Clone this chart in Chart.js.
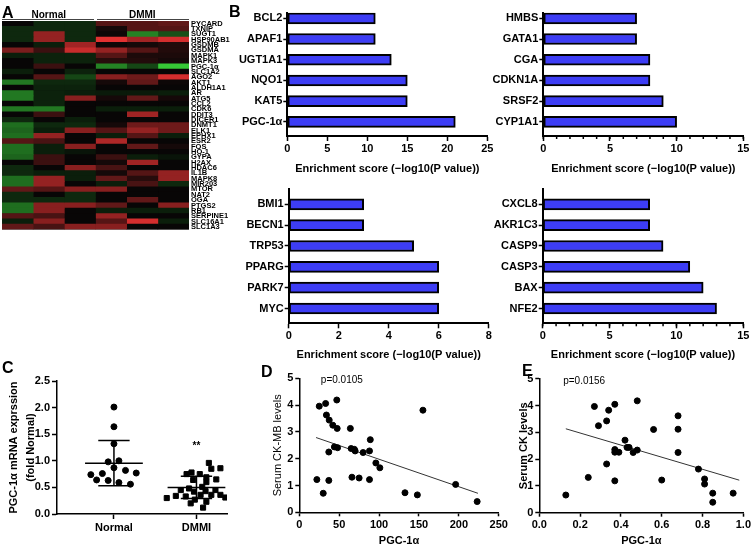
<!DOCTYPE html>
<html>
<head>
<meta charset="utf-8">
<script src="https://cdn.jsdelivr.net/npm/chart.js@4.4.0/dist/chart.umd.min.js"></script>
<style>
  body { margin: 0; background: #fff; }
  #fig { position: relative; width: 753px; height: 548px; overflow: hidden; font-family: 'Liberation Sans', Arial, sans-serif; }
  canvas { position: absolute; }
  .tag { position: absolute; font-weight: bold; font-size: 16px; line-height: 1; color: #000; }
</style>
</head>
<body>
<div id="fig">
  <canvas id="heat" width="232" height="236" style="left:0;top:0"></canvas>
  <canvas id="b1" width="270" height="176" style="left:230px;top:0"></canvas>
  <canvas id="b2" width="263" height="176" style="left:490px;top:0"></canvas>
  <canvas id="b3" width="270" height="182" style="left:230px;top:180px"></canvas>
  <canvas id="b4" width="263" height="182" style="left:490px;top:180px"></canvas>
  <canvas id="c" width="232" height="218" style="left:0;top:330px"></canvas>
  <canvas id="d" width="250" height="218" style="left:262px;top:330px"></canvas>
  <canvas id="e" width="253" height="218" style="left:500px;top:330px"></canvas>
  <div class="tag" style="left:2px;top:5px">A</div>
  <div class="tag" style="left:229px;top:4px">B</div>
  <div class="tag" style="left:2px;top:360px">C</div>
  <div class="tag" style="left:261px;top:364px">D</div>
  <div class="tag" style="left:522px;top:363px">E</div>
</div>
<script>
// ---- panel A: heatmap ----
const genes = ['PYCARD', 'TXNIP', 'SUGT1', 'HSP90AB1', 'GSDMB', 'GSDMA', 'MAPK1', 'MAPK3', 'PGC-1α', 'SLC1A2',
  'AGO2', 'AKT1', 'ALDH1A1', 'AR', 'ATG5', 'CCL2', 'CDK6', 'DDIT3', 'DICER1', 'DNMT1',
  'ELK1', 'EPHX1', 'ESR2', 'FOS', 'HO-1', 'GYPA', 'H2AX', 'HDAC6', 'IL1B', 'MAPK8',
  'MIR203', 'MTOR', 'NAT2', 'OGA', 'PTGS2', 'RB1', 'SERPINE1', 'SLC16A1', 'SLC1A3'];
const groups = ['Normal', 'DMMI'];
// one array per sample column, one value per gene (red = up, green = down)
const normal1 = [0, -0.15, -0.15, -0.15, 0, 0.45, -0.1, 0, 0, -0.1, 0, -0.55, 0, -0.55, -0.55, 0, -0.55, 0, -0.15, -0.5,
  -0.45, -0.5, 0.3, -0.5, -0.5, -0.45, 0, -0.15, -0.15, -0.5, -0.5, 0.35, -0.15, -0.15, -0.5, -0.5, 0.3, -0.1, 0.35];
const normal2 = [-0.15, -0.15, 0.55, 0.55, -0.1, 0.2, -0.12, -0.12, 0.2, 0, 0.3, -0.15, -0.12, -0.12, -0.12, -0.12, -0.55, 0.2, 0, -0.15,
  -0.1, 0.55, 0.25, -0.1, -0.1, 0.2, 0.2, 0, -0.1, 0.55, 0.55, 0.3, 0, -0.15, 0.5, 0.5, 0.25, 0.5, 0.25];
const normal3 = [-0.15, -0.15, -0.15, -0.15, 0.6, 0.75, -0.12, -0.12, 0, -0.12, -0.3, -0.15, -0.12, -0.1, 0.5, 0, 0, 0, -0.1, -0.15,
  0.5, 0, 0, 0.5, -0.05, 0, 0, 0.5, -0.1, -0.1, 0, 0.5, -0.15, -0.15, 0.5, 0, 0, 0, 0.5];
const dmmi1 = [0.3, 0.05, 0.02, 0.85, 0.02, 0.55, 0.3, 0.12, -0.6, 0, 0.5, 0.05, 0, -0.08, 0.05, 0, -0.1, 0, 0, 0.05,
  0.3, -0.1, 0.65, 0, 0, 0.2, 0.05, 0.25, 0.05, 0.35, -0.1, 0.5, 0, 0, 0.35, -0.1, 0.55, 0.3, 0.5];
const dmmi2 = [0.3, 0.3, -0.6, 0.6, 0.05, 0.3, 0.08, 0.1, -0.3, 0, 0.4, 0.35, 0, -0.08, 0.35, 0, -0.1, 0.6, 0, 0.4,
  0.55, 0.3, 0, 0.35, 0, -0.1, 0.6, 0, 0.3, 0.12, 0.25, 0, 0, 0.35, 0, -0.1, 0, 0.8, 0];
const dmmi3 = [0.35, 0.3, -0.35, 0.8, 0.1, 0.1, 0.08, 0.05, -0.95, 0, 0.8, 0.02, 0, -0.1, 0.05, 0, -0.1, 0, 0, 0.4,
  0.4, -0.1, 0, 0.05, 0, -0.05, 0, 0, 0.55, 0.55, -0.15, 0, 0, 0, 0.5, -0.1, 0, -0.1, 0];
const heatColumns = [normal1, normal2, normal3, dmmi1, dmmi2, dmmi3];

// ---- panel B: enrichment scores ----
const b1Genes = ['BCL2', 'APAF1', 'UGT1A1', 'NQO1', 'KAT5', 'PGC-1α'];
const b1Scores = [11, 11, 13, 15, 15, 21];
const b2Genes = ['HMBS', 'GATA1', 'CGA', 'CDKN1A', 'SRSF2', 'CYP1A1'];
const b2Scores = [7, 7, 8, 8, 9, 10];
const b3Genes = ['BMI1', 'BECN1', 'TRP53', 'PPARG', 'PARK7', 'MYC'];
const b3Scores = [3, 3, 5, 6, 6, 6];
const b4Genes = ['CXCL8', 'AKR1C3', 'CASP9', 'CASP3', 'BAX', 'NFE2'];
const b4Scores = [8, 8, 9, 11, 12, 13];

// ---- panel C: mRNA expression ----
const normalValues = [2.01, 1.64, 1.32, 0.98, 1.0, 0.87, 0.74, 0.76, 0.82, 0.77, 0.64, 0.63, 0.59, 0.56];
const normalJitter = [0, 0, 0, -0.07, 0.06, 0, -0.28, -0.14, 0.14, 0.27, -0.21, -0.07, 0.06, 0.2];
const dmmiValues = [0.96, 0.85, 0.86, 0.75, 0.78, 0.75, 0.69, 0.64, 0.6, 0.65, 0.51, 0.48, 0.45, 0.42,
  0.43, 0.45, 0.36, 0.33, 0.34, 0.3, 0.36, 0.31, 0.27, 0.23, 0.2, 0.12, 0.36];
const dmmiJitter = [0.15, 0.18, 0.29, -0.12, -0.06, 0.04, 0.12, -0.04, 0.12, 0.24, 0.07, -0.09, -0.19, -0.03,
  0.11, 0.23, 0.05, -0.13, -0.25, -0.36, 0.29, 0.35, -0.02, 0.12, -0.07, 0.08, 0.18];
const groupMean = [0.955, 0.5];
const groupSD = [0.425, 0.21];

// ---- panels D, E: correlations ----
const ckmbX = [22, 25, 30, 33, 34, 37.5, 37, 37, 42, 44, 47, 47.5, 48, 64, 65, 66, 69, 70, 75, 80,
  89, 88, 88, 96, 101, 132.5, 148, 155, 196, 223];
const ckmbY = [1.22, 3.96, 0.71, 4.06, 3.63, 3.44, 2.25, 1.19, 3.25, 2.44, 4.19, 3.13, 2.41, 3.13, 2.38, 1.31, 2.35, 2.29, 1.28, 2.23,
  2.71, 2.29, 1.22, 1.84, 1.66, 0.73, 0.65, 3.81, 1.04, 0.4];
const ckmbFit = { intercept: 3.005, slope: -0.01025, from: 21, to: 224 };
const ckX = [0.13, 0.24, 0.27, 0.29, 0.33, 0.34, 0.33, 0.37, 0.37, 0.37, 0.37, 0.39, 0.42, 0.43, 0.44,
  0.46, 0.48, 0.48, 0.56, 0.6, 0.68, 0.68, 0.68, 0.78, 0.81, 0.81, 0.85, 0.85, 0.95];
const ckY = [0.66, 1.32, 3.97, 3.25, 3.43, 3.83, 1.82, 4.05, 2.36, 2.26, 1.19, 2.26, 2.71, 2.44, 2.44,
  2.25, 4.18, 2.34, 3.11, 1.22, 3.62, 3.12, 2.25, 1.63, 1.26, 1.07, 0.39, 0.73, 0.73];
const ckFit = { intercept: 3.43, slope: -2.26, from: 0.13, to: 0.98 };
const pLabels = ['p=0.0105', 'p=0.0156'];

const FONT = "'Liberation Sans', Arial, sans-serif";
Chart.defaults.font.family = FONT;
Chart.defaults.color = '#000';
Chart.defaults.animation = false;
Chart.defaults.events = [];
Chart.defaults.plugins.legend.display = false;
Chart.defaults.plugins.tooltip.enabled = false;

const bold = (size) => ({ size: size, weight: 'bold' });
const axisGrid = (len) => ({ drawOnChartArea: false, offset: false, tickLength: len, tickColor: '#000', tickWidth: 1.5 });
const axisBorder = (w) => ({ color: '#000', width: w });
// put my own ticks on a linear axis and keep its range exactly as asked
const fixedTicks = (values, min, max) => (s) => {
  s.ticks = values.map((v) => ({ value: v }));
  s.min = min;
  s.max = max;
};

// green - black - red colour scale
function heatColor(v) {
  if (v >= 0) {
    const r = Math.min(255, Math.round(8 + 255 * v)), g = Math.round(6 + 50 * v);
    return 'rgb(' + r + ',' + g + ',' + g + ')';
  }
  const a = -v;
  const g = Math.min(255, Math.round(10 + 200 * a)), r = Math.round(6 + 50 * a);
  return 'rgb(' + r + ',' + g + ',' + r + ')';
}

const heatBackdrop = {
  id: 'heatBackdrop',
  beforeDatasetsDraw(chart) {
    const { ctx, chartArea: a } = chart;
    ctx.save();
    ctx.fillStyle = '#080808';
    ctx.fillRect(a.left, a.top, a.right - a.left, a.bottom - a.top);
    ctx.restore();
  }
};

const heatHeader = {
  id: 'heatHeader',
  afterDraw(chart) {
    const { ctx, chartArea, scales: { x } } = chart;
    ctx.save();
    ctx.font = 'bold 10px ' + FONT;
    ctx.textAlign = 'center';
    ctx.textBaseline = 'middle';
    ctx.fillStyle = '#000';
    ctx.strokeStyle = '#444';
    ctx.lineWidth = 1;
    groups.forEach((g, i) => {
      const x0 = x.getPixelForValue(i * 3), x1 = x.getPixelForValue(i * 3 + 3);
      ctx.beginPath();
      ctx.moveTo(x0 + (i ? 1.5 : 0), chartArea.top - 1.5);
      ctx.lineTo(x1 - (i ? 0 : 1.5), chartArea.top - 1.5);
      ctx.stroke();
      ctx.fillText(g, (x0 + x1) / 2, chartArea.top - 6);
    });
    ctx.restore();
  }
};

new Chart(document.getElementById('heat'), {
  type: 'bar',
  data: {
    labels: genes,
    datasets: heatColumns.map((col) => ({
      data: genes.map(() => 1),
      backgroundColor: col.map(heatColor),
      borderWidth: 0,
      barPercentage: 1,
      categoryPercentage: 1
    }))
  },
  options: {
    indexAxis: 'y',
    responsive: false,
    layout: { padding: { left: 2, top: 21, right: 0, bottom: 6 } },
    scales: {
      x: { stacked: true, display: false, min: 0, max: 6 },
      y: {
        stacked: true,
        position: 'right',
        grid: { display: false, drawTicks: false },
        border: { display: false },
        ticks: { autoSkip: false, font: bold(7.5), padding: 2 },
        afterFit: (s) => { s.width = 43; }
      }
    }
  },
  plugins: [heatBackdrop, heatHeader]
});

// short minor tick marks under the x axis
function minorTicks(step) {
  return {
    id: 'minorTicks',
    afterDraw(chart) {
      const { ctx, scales: { x } } = chart;
      ctx.save();
      ctx.strokeStyle = '#000';
      ctx.lineWidth = 1.5;
      for (let v = x.min; v <= x.max; v += step) {
        const px = x.getPixelForValue(v);
        ctx.beginPath();
        ctx.moveTo(px, x.top);
        ctx.lineTo(px, x.top + 3);
        ctx.stroke();
      }
      ctx.restore();
    }
  };
}

function enrichmentChart(id, names, scores, o) {
  return new Chart(document.getElementById(id), {
    type: 'bar',
    data: {
      datasets: [{
        data: scores.map((s, i) => ({ x: s, y: i })),
        backgroundColor: '#3d3df5',
        borderColor: '#000',
        borderWidth: 2,
        borderSkipped: false,
        barThickness: 11
      }]
    },
    options: {
      indexAxis: 'y',
      responsive: false,
      layout: { padding: o.padding },
      scales: {
        x: {
          type: 'linear', min: 0, max: o.max,
          ticks: { stepSize: o.step, maxRotation: 0, font: bold(11), padding: 1.5 },
          grid: axisGrid(5),
          border: axisBorder(2),
          title: { display: true, text: 'Enrichment score (−log10(P value))', font: bold(11), padding: 0 },
          afterFit: (s) => { s.height = o.xHeight; }
        },
        y: {
          type: 'linear', reverse: true, offset: false, min: o.yMin, max: o.yMax,
          afterBuildTicks: fixedTicks(names.map((n, i) => i), o.yMin, o.yMax),
          ticks: { callback: (v) => names[v], font: bold(11), padding: 1 },
          grid: axisGrid(4),
          border: axisBorder(2),
          afterFit: (s) => { s.width = o.yWidth; }
        }
      }
    },
    plugins: o.minor ? [minorTicks(o.minor)] : []
  });
}

enrichmentChart('b1', b1Genes, b1Scores, { max: 25, step: 5, yMin: -0.27, yMax: 5.68, yWidth: 57.3, xHeight: 40,
  padding: { top: 12.7, right: 12.7, bottom: 0, left: 0 } });
enrichmentChart('b2', b2Genes, b2Scores, { max: 15, step: 5, minor: 1, yMin: -0.27, yMax: 5.68, yWidth: 53.3, xHeight: 40,
  padding: { top: 12.7, right: 9.7, bottom: 0, left: 0 } });
enrichmentChart('b3', b3Genes, b3Scores, { max: 8, step: 2, yMin: -0.72, yMax: 5.71, yWidth: 58.7, xHeight: 38.7,
  padding: { top: 9.3, right: 11.3, bottom: 0, left: 0 } });
enrichmentChart('b4', b4Genes, b4Scores, { max: 15, step: 5, minor: 1, yMin: -0.72, yMax: 5.71, yWidth: 52.7, xHeight: 38.7,
  padding: { top: 9.3, right: 9.7, bottom: 0, left: 0 } });

// mean line, SD whisker and caps, as one broken line
function summaryPath(c, m, sd) {
  return [
    { x: c - 0.35, y: m }, { x: c + 0.35, y: m }, { x: c, y: null },
    { x: c, y: m + sd }, { x: c, y: m - sd }, { x: c, y: null },
    { x: c - 0.19, y: m + sd }, { x: c + 0.19, y: m + sd }, { x: c, y: null },
    { x: c - 0.19, y: m - sd }, { x: c + 0.19, y: m - sd }
  ];
}

function textNote(text, xv, yv, font, align) {
  return {
    id: 'textNote',
    afterDatasetsDraw(chart) {
      const { ctx, scales: { x, y } } = chart;
      ctx.save();
      ctx.font = font;
      ctx.fillStyle = '#000';
      ctx.textAlign = align;
      ctx.textBaseline = 'middle';
      ctx.fillText(text, x.getPixelForValue(xv), y.getPixelForValue(yv));
      ctx.restore();
    }
  };
}

new Chart(document.getElementById('c'), {
  type: 'scatter',
  data: {
    datasets: [
      { data: normalValues.map((v, i) => ({ x: 1 + normalJitter[i], y: v })), pointStyle: 'circle', pointRadius: 3,
        backgroundColor: '#000', borderColor: '#000' },
      { data: dmmiValues.map((v, i) => ({ x: 2 + dmmiJitter[i], y: v })), pointStyle: 'rect', pointRadius: 3.6,
        backgroundColor: '#000', borderColor: '#000' },
      { data: summaryPath(1, groupMean[0], groupSD[0]), showLine: true, spanGaps: false, pointRadius: 0,
        borderColor: '#000', borderWidth: 1.5 },
      { data: summaryPath(2, groupMean[1], groupSD[1]), showLine: true, spanGaps: false, pointRadius: 0,
        borderColor: '#000', borderWidth: 1.5 }
    ]
  },
  options: {
    responsive: false,
    layout: { padding: { top: 51, right: 2, bottom: 0, left: 0 } },
    scales: {
      x: {
        type: 'linear', min: 0.31, max: 2.37,
        afterBuildTicks: fixedTicks([1, 2], 0.31, 2.37),
        ticks: { callback: (v) => groups[v - 1], font: bold(11), padding: 2 },
        grid: axisGrid(5),
        border: axisBorder(1.5),
        afterFit: (s) => { s.height = 34; }
      },
      y: {
        min: 0, max: 2.5,
        ticks: { stepSize: 0.5, font: bold(11), padding: 2, callback: (v) => v.toFixed(1) },
        grid: axisGrid(5),
        border: axisBorder(1.5),
        title: { display: true, text: ['PGC-1α mRNA exprssion', '(fold Normal)'],
          font: { size: 11, weight: 'bold', lineHeight: 1.55 }, padding: { top: 5.2, bottom: 0 } },
        afterFit: (s) => { s.width = 57; }
      }
    }
  },
  plugins: [textNote('**', 2, 1.27, 'bold 10px ' + FONT, 'center')]
});

function corrChart(id, xs, ys, fit, o) {
  return new Chart(document.getElementById(id), {
    type: 'scatter',
    data: {
      datasets: [
        { data: xs.map((v, i) => ({ x: v, y: ys[i] })), pointRadius: 3, backgroundColor: '#000', borderColor: '#000' },
        { data: [fit.from, fit.to].map((v) => ({ x: v, y: fit.intercept + fit.slope * v })), showLine: true,
          pointRadius: 0, borderColor: '#333', borderWidth: 1 }
      ]
    },
    options: {
      responsive: false,
      layout: { padding: o.padding },
      scales: {
        x: {
          min: 0, max: o.max,
          ticks: { stepSize: o.step, font: bold(11), padding: 2, callback: o.fmt },
          grid: axisGrid(4),
          border: axisBorder(1.5),
          title: { display: true, text: 'PGC-1α', font: bold(11), padding: 0 },
          afterFit: (s) => { s.height = o.xHeight; }
        },
        y: {
          min: 0, max: 5,
          ticks: { stepSize: 1, font: bold(11), padding: 2 },
          grid: axisGrid(4),
          border: axisBorder(1.5),
          title: { display: true, text: o.yTitle, font: { size: 11, weight: o.yWeight }, padding: { top: o.titlePad, bottom: 0 } },
          afterFit: (s) => { s.width = o.yWidth; }
        }
      }
    },
    plugins: [textNote(o.note, o.noteAt[0], o.noteAt[1], '10px ' + FONT, 'left')]
  });
}

corrChart('d', ckmbX, ckmbY, ckmbFit, { max: 250, step: 50, fmt: (v) => v, xHeight: 35.7, yWidth: 37.3,
  titlePad: 9.4, yTitle: 'Serum CK-MB levels', yWeight: 'normal', note: pLabels[0], noteAt: [27, 4.94],
  padding: { top: 48.3, right: 13.3, bottom: 0, left: 0 } });
corrChart('e', ckX, ckY, ckFit, { max: 1, step: 0.2, fmt: (v) => v.toFixed(1), xHeight: 35.3, yWidth: 39.3,
  titlePad: 16.9, yTitle: 'Serum CK levels', yWeight: 'bold', note: pLabels[1], noteAt: [0.117, 4.9],
  padding: { top: 48.9, right: 8.7, bottom: 0, left: 0 } });
</script>
</body>
</html>
